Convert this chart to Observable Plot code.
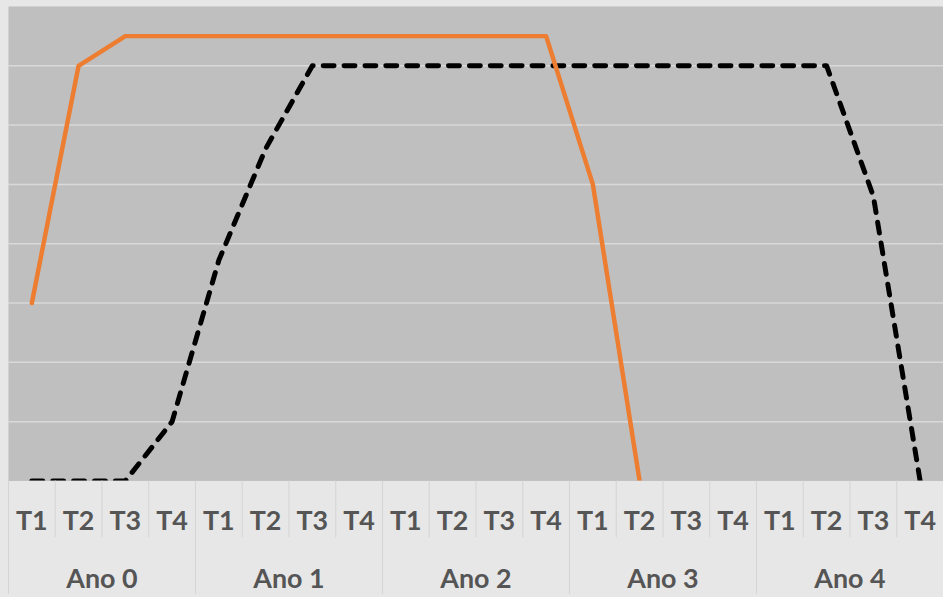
<!DOCTYPE html>
<html>
<head>
<meta charset="utf-8">
<script src="https://cdn.jsdelivr.net/npm/d3@7"></script>
<script src="https://cdn.jsdelivr.net/npm/@observablehq/plot@0.6"></script>
<style>
  html, body { margin: 0; padding: 0; overflow: hidden; background: #e7e7e7; }
  #chart { width: 943px; height: 597px; overflow: hidden; }
</style>
</head>
<body>
<div id="chart"></div>
<script>
const years = ["Ano 0", "Ano 1", "Ano 2", "Ano 3", "Ano 4"];
const quarters = ["T1", "T2", "T3", "T4"];
const orangeValues = [3, 7, 7.5, 7.5, 7.5, 7.5, 7.5, 7.5, 7.5, 7.5, 7.5, 7.5, 5, 0];
const blackValues = [0, 0, 0, 1, 3.72, 5.6, 7, 7, 7, 7, 7, 7, 7, 7, 7, 7, 7, 7, 4.8, 0];
const gridValues = [1, 2, 3, 4, 5, 6, 7];

const n = years.length * quarters.length;
const idx = d3.range(n);
const quarterSeps = idx.slice(0, n - 1).filter(i => (i + 1) % quarters.length !== 0).map(i => i + 0.5);
const groupSeps = d3.range(years.length + 1).map(g => g * quarters.length - 0.5);
const groupCenters = years.map((y, g) => ({year: y, x: g * quarters.length + (quarters.length - 1) / 2}));

const orange = orangeValues.map((v, i) => ({i, v}));
const black = blackValues.map((v, i) => ({i, v}));

const font = "Lato, 'Open Sans', sans-serif";
const textColor = "#555555";
const sepColor = "#d4d4d4";

const chart = Plot.plot({
  width: 948,
  height: 597,
  marginLeft: 8,
  marginRight: 0,
  marginTop: 6,
  marginBottom: 114,
  style: {background: "#e7e7e7", fontFamily: font},
  x: {type: "linear", domain: [-0.5, n - 0.5], label: null, axis: null},
  y: {domain: [0, 8], label: null, axis: null},
  marks: [
    Plot.frame({fill: "#bfbfbf", stroke: null}),
    Plot.gridY(gridValues, {stroke: "#d9d9d9", strokeOpacity: 1, strokeWidth: 1.5}),
    Plot.line(black, {x: "i", y: "v", stroke: "#000000", strokeWidth: 5, strokeDasharray: "11,10", strokeLinecap: "round", strokeLinejoin: "round", clip: "frame"}),
    Plot.line(orange, {x: "i", y: "v", stroke: "#ED7D31", strokeWidth: 4.5, strokeLinejoin: "round", clip: "frame"}),
    Plot.axisX(quarterSeps, {tickSize: 57, tickFormat: () => "", stroke: sepColor, strokeOpacity: 1, label: null}),
    Plot.axisX(groupSeps, {tickSize: 114, tickFormat: () => "", stroke: sepColor, strokeOpacity: 1, label: null}),
    Plot.text(idx, {x: i => i, text: i => quarters[i % quarters.length], frameAnchor: "bottom", lineAnchor: "middle", dy: 41, fontSize: 27, fontWeight: "bold", fill: textColor}),
    Plot.text(groupCenters, {x: "x", text: "year", frameAnchor: "bottom", lineAnchor: "middle", dy: 99, fontSize: 27, fontWeight: "bold", fill: textColor})
  ]
});
document.getElementById("chart").appendChild(chart);
</script>
</body>
</html>
